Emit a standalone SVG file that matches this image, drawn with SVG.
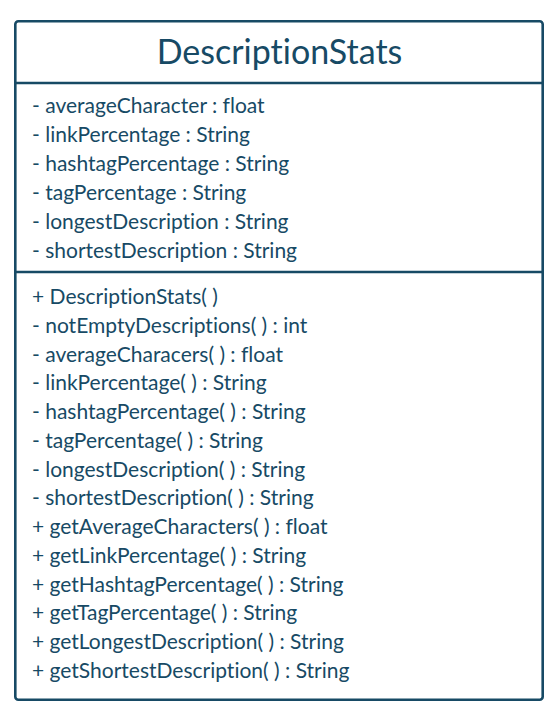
<svg xmlns="http://www.w3.org/2000/svg" width="560" height="724" viewBox="0 0 560 724">
<style>
.box{fill:#fff;stroke:#174a65;stroke-width:2.6}
.div{stroke:#174a65;stroke-width:2.6}
.t{font-family:Lato,"Open Sans","Liberation Sans",sans-serif;fill:#174a65;font-variant-ligatures:none}
.title{font-size:34px;text-anchor:middle}
.m{font-size:21px}
</style>
<rect width="560" height="724" fill="#fff"/>
<g id="DescriptionStats">
<rect class="box" x="15.3" y="21.3" width="527.4" height="678.4" rx="3"/>
<line class="div" x1="15" y1="83" x2="543" y2="83"/>
<line class="div" x1="15" y1="272" x2="543" y2="272"/>
<text class="t title" x="279.5" y="64">DescriptionStats</text>
<g class="t m">
<text x="32" y="113">- averageCharacter : float</text>
<text x="32" y="142">- linkPercentage : String</text>
<text x="32" y="171">- hashtagPercentage : String</text>
<text x="32" y="200">- tagPercentage : String</text>
<text x="32" y="229">- longestDescription : String</text>
<text x="32" y="258">- shortestDescription : String</text>
<text x="32" y="304">+ DescriptionStats( )</text>
<text x="32" y="333">- notEmptyDescriptions( ) : int</text>
<text x="32" y="361.5">- averageCharacers( ) : float</text>
<text x="32" y="390">- linkPercentage( ) : String</text>
<text x="32" y="419">- hashtagPercentage( ) : String</text>
<text x="32" y="448">- tagPercentage( ) : String</text>
<text x="32" y="476.5">- longestDescription( ) : String</text>
<text x="32" y="505">- shortestDescription( ) : String</text>
<text x="32" y="534">+ getAverageCharacters( ) : float</text>
<text x="32" y="563">+ getLinkPercentage( ) : String</text>
<text x="32" y="591.5">+ getHashtagPercentage( ) : String</text>
<text x="32" y="620">+ getTagPercentage( ) : String</text>
<text x="32" y="649">+ getLongestDescription( ) : String</text>
<text x="32" y="677.5">+ getShortestDescription( ) : String</text>
</g>
</g>
</svg>
